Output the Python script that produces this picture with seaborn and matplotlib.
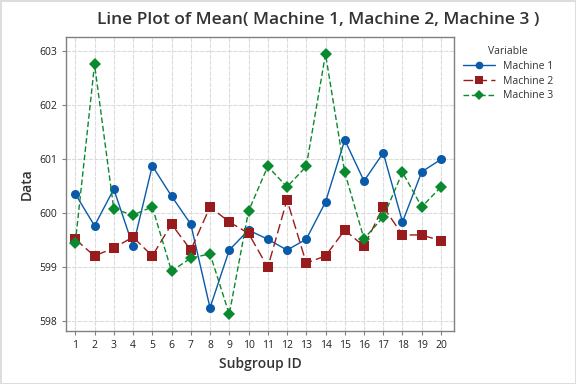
import numpy as np
import pandas as pd
import matplotlib
matplotlib.use('Agg')
import matplotlib.pyplot as plt
import seaborn as sns

sns.set_theme(style='white')
plt.rcParams['font.family'] = ['Open Sans', 'DejaVu Sans']

# values
subgroup = list(range(1, 21))
machine1 = [600.35, 599.76, 600.44, 599.38, 600.87, 600.31, 599.79, 598.24, 599.31, 599.68,
            599.51, 599.31, 599.51, 600.20, 601.35, 600.59, 601.11, 599.83, 600.76, 600.99]
machine2 = [599.51, 599.20, 599.35, 599.55, 599.20, 599.79, 599.31, 600.11, 599.83, 599.62,
            598.99, 600.24, 599.07, 599.20, 599.68, 599.38, 600.11, 599.59, 599.59, 599.48]
machine3 = [599.44, 602.75, 600.07, 599.96, 600.11, 598.92, 599.16, 599.24, 598.12, 600.03,
            600.86, 600.48, 600.86, 602.94, 600.75, 599.52, 599.92, 600.75, 600.11, 600.48]

df = pd.DataFrame({
    'Subgroup ID': subgroup * 3,
    'Data': machine1 + machine2 + machine3,
    'Variable': ['Machine 1'] * 20 + ['Machine 2'] * 20 + ['Machine 3'] * 20,
})

palette = {'Machine 1': '#0A5AAA', 'Machine 2': '#981B1E', 'Machine 3': '#0A8A2E'}
markers = {'Machine 1': 'o', 'Machine 2': 's', 'Machine 3': 'D'}
dashes = {'Machine 1': '', 'Machine 2': (7, 3), 'Machine 3': (4, 2)}

fig = plt.figure(figsize=(5.76, 3.84), dpi=100)
ax = fig.add_axes([0.115, 0.138, 0.673, 0.766])

sns.lineplot(data=df, x='Subgroup ID', y='Data', hue='Variable', style='Variable',
             palette=palette, markers=markers, dashes=dashes, markersize=6.5,
             markeredgewidth=0, linewidth=1, ax=ax)

ax.set_xlim(0.53, 20.67)
ax.set_ylim(597.81, 603.26)
ax.set_xticks(subgroup)
ax.set_yticks([598, 599, 600, 601, 602, 603])
ax.grid(True, color='#dcdcdc', linewidth=0.8, linestyle=(0, (4, 1)))
ax.set_axisbelow(True)
for s in ax.spines.values():
    s.set_color('#808080')
    s.set_linewidth(1)
ax.tick_params(axis='both', labelsize=7.5, colors='#808080', labelcolor='#222222',
               length=3, width=0.8, bottom=True, left=True)
ax.set_xlabel('Subgroup ID', fontsize=10, color='#333333', fontweight='semibold')
ax.set_ylabel('Data', fontsize=10, color='#333333', fontweight='semibold')
fig.text(0.552, 0.948, 'Line Plot of Mean( Machine 1, Machine 2, Machine 3 )',
         fontsize=12.5, color='#333333', fontweight='semibold', ha='center', va='center')

sns.move_legend(ax, 'upper left', bbox_to_anchor=(1.0, 1.0), frameon=False,
                title='Variable', fontsize=7.5, title_fontsize=7.5,
                handlelength=3, labelspacing=0.35, markerscale=0.85)
leg = ax.get_legend()
for t in leg.get_texts():
    t.set_color('#333333')
leg.get_title().set_color('#333333')

fig.patch.set_edgecolor('#dddddd')
fig.patch.set_linewidth(2)
fig.savefig('out.png', dpi=100, edgecolor=fig.get_edgecolor())
